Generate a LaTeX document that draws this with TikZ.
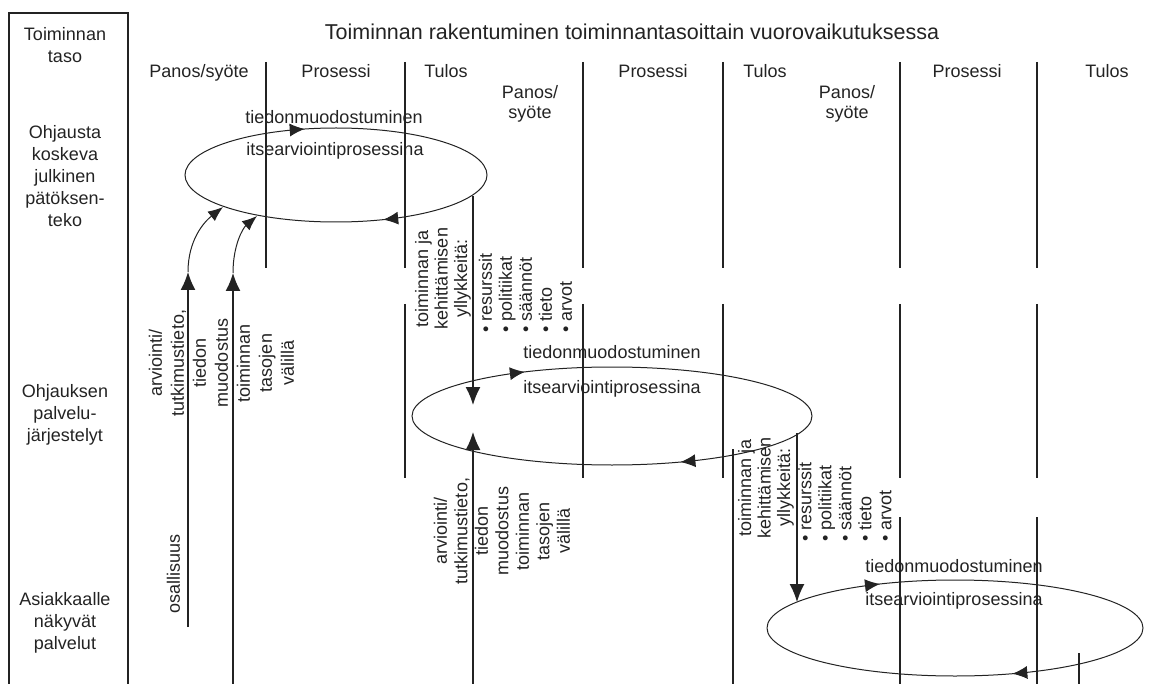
\documentclass[tikz,border=0pt]{standalone}
\usepackage{fontspec}
\setmainfont{Liberation Sans}
\usetikzlibrary{arrows.meta,decorations.markings}

\definecolor{ink}{RGB}{35,35,35}
\tikzstyle{txt} = [font=\fontsize{18}{22}\selectfont, text=ink, align=center, inner sep=0pt]
\tikzstyle{vtxt} = [txt, rotate=90]
\tikzstyle{bullets} = [vtxt, font=\fontsize{18}{20}\selectfont, align=left]
\tikzstyle{colline} = [draw=ink, line width=1.4pt]
\tikzstyle{arrow} = [draw=ink, line width=1.4pt, -{Latex[length=18pt,width=15pt]}]
\tikzstyle{curvearrow} = [draw=ink, line width=1pt, -{Latex[length=15pt,width=12pt]}]
\tikzset{ring/.style 2 args={draw=ink, line width=1pt, postaction={decorate, decoration={markings,
  mark=at position #1 with {\arrow{Latex[length=15pt,width=13pt]}},
  mark=at position #2 with {\arrow{Latex[length=15pt,width=13pt]}}}}}}

\begin{document}
\begin{tikzpicture}[x=1pt, y=-1pt]
	\useasboundingbox (0,0) rectangle (1166,684);

	% toiminnan taso
	\draw [colline] (9,684) -- (9,13) -- (128,13) -- (128,684);
	\node [txt, anchor=north] (tasohead) at (65,27) {Toiminnan\\taso};
	\node [txt, anchor=north] (taso1) at (65,125) {Ohjausta\\koskeva\\julkinen\\pätöksen-\\teko};
	\node [txt, anchor=north] (taso2) at (65,384) {Ohjauksen\\palvelu-\\järjestelyt};
	\node [txt, anchor=north] (taso3) at (65,592) {Asiakkaalle\\näkyvät\\palvelut};

	\node [txt, font=\fontsize{21.5}{26}\selectfont, anchor=base] (title) at (632,40) {Toiminnan rakentuminen toiminnantasoittain vuorovaikutuksessa};

	\node [txt, anchor=base] (panos1) at (199,78) {Panos/syöte};
	\node [txt, anchor=base] (prosessi1) at (336,78) {Prosessi};
	\node [txt, anchor=base] (tulos1) at (446,78) {Tulos};
	\node [txt, anchor=north, font=\fontsize{18}{20.5}\selectfont] (panos2) at (530,85) {Panos/\\syöte};
	\node [txt, anchor=base] (prosessi2) at (653,78) {Prosessi};
	\node [txt, anchor=base] (tulos2) at (765,78) {Tulos};
	\node [txt, anchor=north, font=\fontsize{18}{20.5}\selectfont] (panos3) at (847,85) {Panos/\\syöte};
	\node [txt, anchor=base] (prosessi3) at (967,78) {Prosessi};
	\node [txt, anchor=base] (tulos3) at (1107,78) {Tulos};

	% column lines
	\draw [colline] (266,62) -- (266,268);
	\draw [colline] (405,62) -- (405,268);
	\draw [colline] (583,62) -- (583,268);
	\draw [colline] (723,62) -- (723,268);
	\draw [colline] (900,62) -- (900,268);
	\draw [colline] (1037,62) -- (1037,268);
	\draw [colline] (405,304) -- (405,478);
	\draw [colline] (583,304) -- (583,478);
	\draw [colline] (723,304) -- (723,478);
	\draw [colline] (900,304) -- (900,478);
	\draw [colline] (1037,304) -- (1037,478);
	\draw [colline] (733,449) -- (733,684);
	\draw [colline] (900,517) -- (900,684);
	\draw [colline] (1037,517) -- (1037,684);

	% itsearviointiprosessit
	\coordinate (ell1) at (336,175);
	\draw [ring={0.179}{0.703}] (ell1) ellipse [x radius=151, y radius=47];
	\node [txt, anchor=base] (tieto1) at (334,124) {tiedonmuodostuminen};
	\node [txt, anchor=base] (itse1) at (335,156) {itsearviointiprosessina};

	\coordinate (ell2) at (612,416);
	\draw [ring={0.170}{0.648}] (ell2) ellipse [x radius=200, y radius=49];
	\node [txt, anchor=base] (tieto2) at (612,358) {tiedonmuodostuminen};
	\node [txt, anchor=base] (itse2) at (612,393) {itsearviointiprosessina};

	\coordinate (ell3) at (955,628);
	\draw [ring={0.179}{0.657}] (ell3) ellipse [x radius=188, y radius=48];
	\node [txt, anchor=base] (tieto3) at (954,572) {tiedonmuodostuminen};
	\node [txt, anchor=base] (itse3) at (954,605) {itsearviointiprosessina};

	% arrows between levels
	\coordinate (osal) at (188,627);
	\coordinate (osaltip) at (188,272);
	\coordinate (osalin) at (223,207);
	\draw [arrow] (osal) -- (osaltip);
	\draw [curvearrow] (osaltip) .. controls (188,240) and (204,222) .. (osalin);
	\coordinate (arv1low) at (233,684);
	\coordinate (arv1tip) at (233,273);
	\coordinate (arv1in) at (257,216);
	\draw [arrow] (arv1low) -- (arv1tip);
	\draw [curvearrow] (arv1tip) .. controls (233,245) and (243,228) .. (arv1in);

	\coordinate (yll1out) at (473,196);
	\coordinate (yll1in) at (473,405);
	\draw [arrow] (yll1out) -- (yll1in);
	\coordinate (arv2low) at (473,684);
	\coordinate (arv2in) at (473,432);
	\draw [arrow] (arv2low) -- (arv2in);

	\coordinate (yll2out) at (797,433);
	\coordinate (yll2in) at (797,602);
	\draw [arrow] (yll2out) -- (yll2in);
	\coordinate (arv3low) at (1079,684);
	\coordinate (arv3top) at (1079,653);
	\draw [colline] (arv3low) -- (arv3top);

	% vertical labels
	\node [vtxt] (arv1) at (221.5,363) {arviointi/\\tutkimustieto,\\tiedon\\muodostus\\toiminnan\\tasojen\\välillä};
	\node [vtxt] (osallisuus) at (173.5,574) {osallisuus};
	\node [vtxt, font=\fontsize{18}{19.5}\selectfont] (yllyke1) at (443,278.5) {toiminnan ja\\kehittämisen\\yllykkeitä:};
	\node [bullets, anchor=west] (keinot1) at (525.5,333) {• resurssit\\• politiikat\\• säännöt\\• tieto\\• arvot};
	\node [vtxt, font=\fontsize{18}{20.5}\selectfont] (arv2) at (502,531) {arviointi/\\tutkimustieto,\\tiedon\\muodostus\\toiminnan\\tasojen\\välillä};
	\node [vtxt, font=\fontsize{18}{19.5}\selectfont] (yllyke2) at (766,487.5) {toiminnan ja\\kehittämisen\\yllykkeitä:};
	\node [bullets, anchor=west] (keinot2) at (845,542) {• resurssit\\• politiikat\\• säännöt\\• tieto\\• arvot};
\end{tikzpicture}
\end{document}
